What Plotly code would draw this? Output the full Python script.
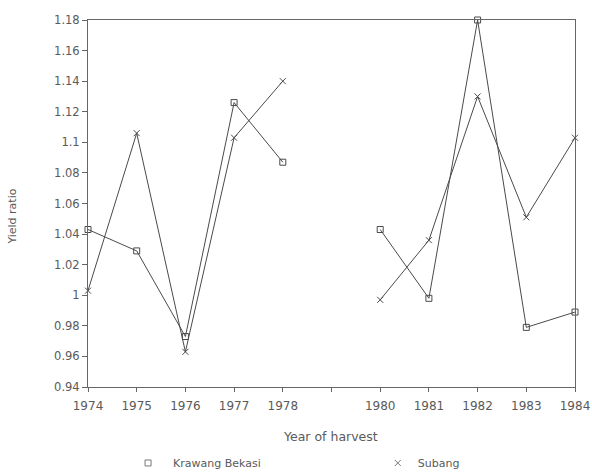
import plotly.graph_objects as go

# Harvest years (1979 has no observation, so both lines break there)
years = [1974, 1975, 1976, 1977, 1978, 1979, 1980, 1981, 1982, 1983, 1984]
krawang_bekasi = [1.043, 1.029, 0.973, 1.126, 1.087, None, 1.043, 0.998, 1.180, 0.979, 0.989]
subang = [1.003, 1.106, 0.963, 1.103, 1.140, None, 0.997, 1.036, 1.130, 1.051, 1.103]
x_tick_labels = ["1974", "1975", "1976", "1977", "1978", "", "1980", "1981", "1982", "1983", "1984"]

ink = "#4a4a4a"
text_col = "#5a5a5a"
font_family = "DejaVu Sans, Verdana, sans-serif"

fig = go.Figure()

series = [
    ("Krawang Bekasi", krawang_bekasi, "square-open", "legend"),
    ("Subang", subang, "x-thin-open", "legend2"),
]
for name, vals, sym, leg in series:
    fig.add_trace(go.Scatter(
        x=years, y=vals, mode="lines+markers", name=name,
        line=dict(color=ink, width=1),
        marker=dict(symbol=sym, size=6, color=ink, line=dict(color=ink, width=1)),
        connectgaps=False, showlegend=False, cliponaxis=False,
    ))
    # legend entry shows the marker only
    fig.add_trace(go.Scatter(
        x=[None], y=[None], mode="markers", name=name, legend=leg,
        marker=dict(symbol=sym, size=6, color="#777777", line=dict(color="#777777", width=1)),
        showlegend=True,
    ))

legend_style = dict(
    orientation="h", y=-0.207, xanchor="left", yanchor="middle",
    font=dict(size=11, color=text_col), bgcolor="rgba(0,0,0,0)", itemclick=False,
)

fig.update_layout(
    width=592, height=476,
    margin=dict(l=88, r=17, t=20, b=89, autoexpand=False),
    paper_bgcolor="white", plot_bgcolor="white",
    font=dict(family=font_family, size=11, color=text_col),
    legend=dict(x=0.072, itemwidth=40, **legend_style),
    legend2=dict(x=0.595, **legend_style),
    xaxis=dict(
        range=[1974, 1984], tickmode="array", tickvals=years, ticktext=x_tick_labels,
        showgrid=False, zeroline=False, showline=True, linecolor="#666666", linewidth=1,
        mirror=True, ticks="outside", ticklen=4, tickcolor="#666666",
        tickfont=dict(size=12, color=text_col), automargin=False, ticklabelstandoff=4,
    ),
    yaxis=dict(
        range=[0.94, 1.18], tick0=0.94, dtick=0.02,
        showgrid=False, zeroline=False, showline=True, linecolor="#666666", linewidth=1,
        mirror=True, ticks="outside", ticklen=5, tickcolor="#666666",
        tickfont=dict(size=11.5, color=text_col), automargin=False,
    ),
    annotations=[
        dict(text="Year of harvest", xref="paper", yref="paper", x=0.497, y=-0.136,
             showarrow=False, xanchor="center", yanchor="middle",
             font=dict(size=12.5, color=text_col)),
        dict(text="Yield ratio", xref="paper", yref="paper", x=-0.155, y=0.463,
             showarrow=False, textangle=-90, xanchor="center", yanchor="middle",
             font=dict(size=11, color=text_col)),
    ],
)

fig.write_html("out.html")
